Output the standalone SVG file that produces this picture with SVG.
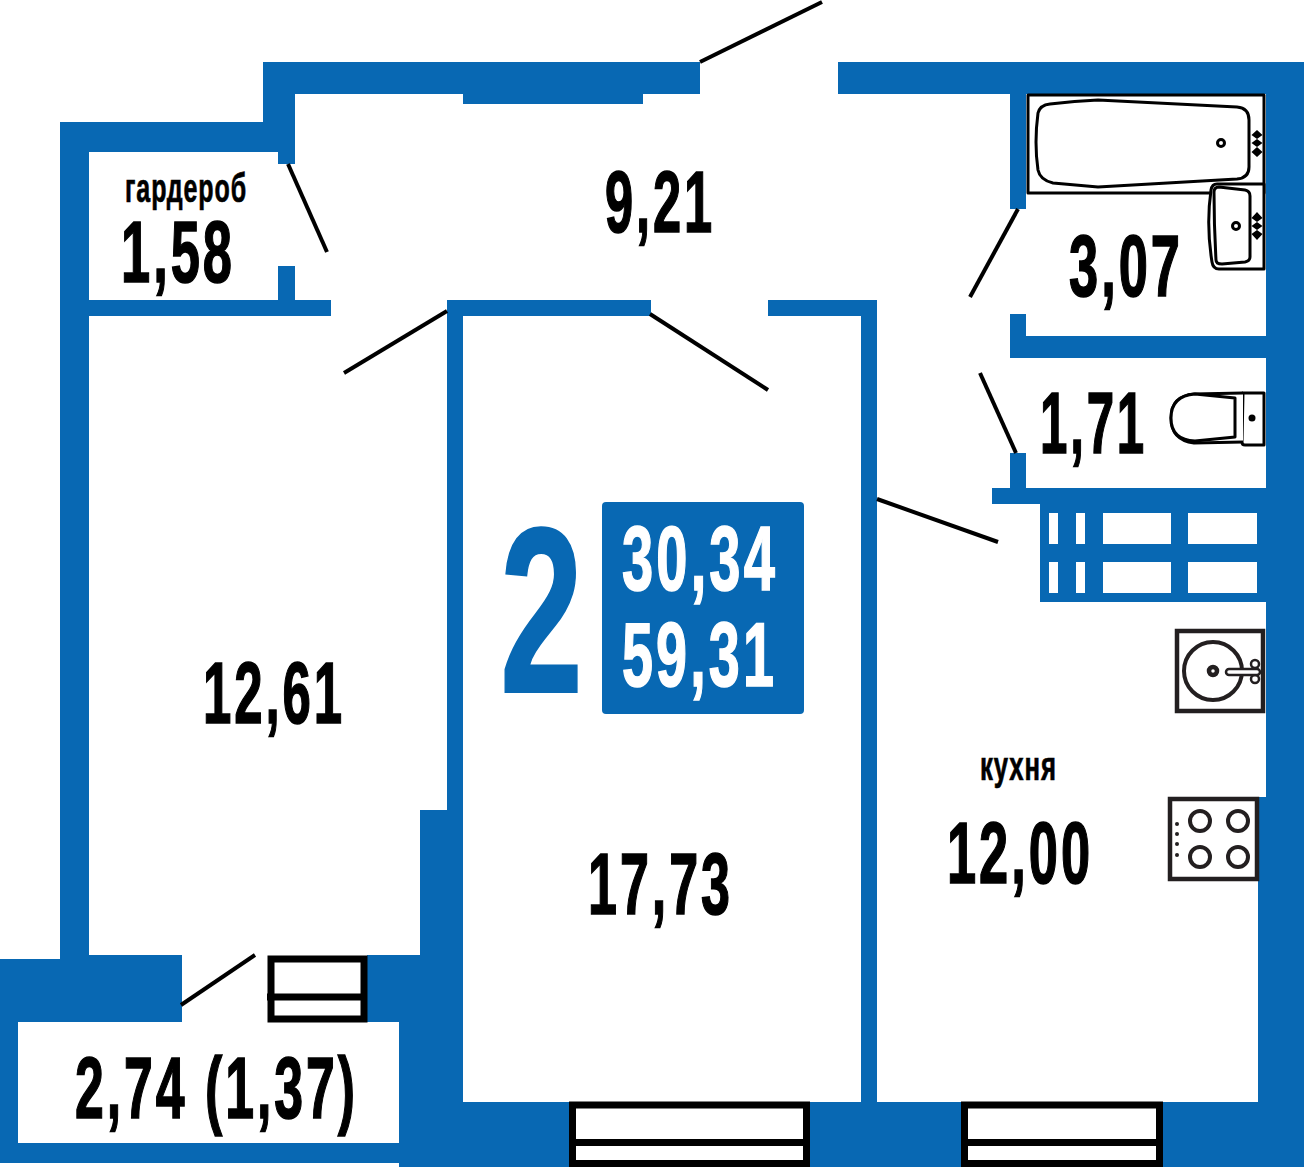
<svg xmlns="http://www.w3.org/2000/svg" width="1304" height="1168" viewBox="0 0 1304 1168">
<style>
.w{fill:#0868b3}
.d{stroke:#000;stroke-width:4;fill:none}
.k{stroke:#000;stroke-width:3;fill:#fff;stroke-linejoin:round}
.s{stroke:#231f20;fill:#fff}
.t{font-family:"Liberation Sans Narrow","Liberation Sans",sans-serif;font-weight:700;fill:#000;stroke:#000;stroke-width:1.6;font-size:88px;letter-spacing:5px}
.l{font-size:41px;stroke-width:.7;letter-spacing:1.500px}
.v{fill:#fff;stroke:#fff;font-size:90px}
</style>
<rect width="1304" height="1168" fill="#fff"/>
<g id="walls" class="w">
<rect x="263" y="62" width="437" height="32"/>
<rect x="463" y="90" width="180" height="14"/>
<rect x="838" y="62" width="466" height="32"/>
<rect x="1266" y="62" width="38" height="740"/>
<rect x="1258" y="797" width="46" height="369"/>
<rect x="263" y="62" width="32" height="90"/>
<rect x="60" y="122" width="235" height="30"/>
<rect x="278" y="140" width="17" height="24"/>
<rect x="60" y="122" width="29" height="840"/>
<rect x="278" y="266" width="17" height="40"/>
<rect x="89" y="300" width="242" height="16"/>
<rect x="447" y="300" width="204" height="16"/>
<rect x="768" y="300" width="109" height="16"/>
<rect x="447" y="300" width="16" height="810"/>
<rect x="861" y="300" width="16" height="810"/>
<rect x="420" y="810" width="43" height="150"/>
<rect x="1010" y="94" width="16" height="115"/>
<rect x="1010" y="314" width="16" height="44"/>
<rect x="1010" y="336" width="256" height="22"/>
<rect x="1010" y="453" width="16" height="40"/>
<rect x="992" y="488" width="274" height="16"/>
<path fill-rule="evenodd" d="M1040 504H1266V602H1040ZM1049 513V544H1058V513ZM1076 513V544H1085V513ZM1103 513V544H1171V513ZM1188 513V544H1257V513ZM1049 562V593H1058V562ZM1076 562V593H1085V562ZM1103 562V593H1171V562ZM1188 562V593H1257V562Z"/>
<rect x="0" y="959" width="182" height="63"/>
<rect x="89" y="955" width="93" height="67"/>
<rect x="0" y="959" width="18" height="204"/>
<rect x="0" y="1143" width="400" height="20"/>
<rect x="367" y="955" width="96" height="67"/>
<rect x="399" y="1022" width="64" height="90"/>
<rect x="399" y="1102" width="905" height="65"/>
</g>
<g id="doors">
<line class="d" x1="288" y1="164" x2="327" y2="252"/>
<line class="d" x1="447" y1="311" x2="344" y2="373"/>
<line class="d" x1="650" y1="314" x2="768" y2="390"/>
<line class="d" x1="700" y1="62" x2="822" y2="2"/>
<line class="d" x1="1018" y1="209" x2="970" y2="297"/>
<line class="d" x1="980" y1="373" x2="1016" y2="453"/>
<line class="d" x1="877" y1="499" x2="998" y2="542"/>
<line class="d" x1="255" y1="955" x2="181" y2="1005"/>
</g>
<g id="windows" fill="#fff" stroke="#000">
<g id="window-balcony" stroke-width="7">
<rect x="271" y="959" width="93" height="60"/>
<line x1="267" y1="997" x2="367" y2="997"/>
</g>
<g id="window-room" stroke-width="7">
<rect x="572.500" y="1105" width="234" height="58.500"/>
<line x1="569" y1="1142.500" x2="810" y2="1142.500"/>
</g>
<g id="window-kitchen" stroke-width="7">
<rect x="964.500" y="1105" width="195" height="58.500"/>
<line x1="961" y1="1142.500" x2="1163" y2="1142.500"/>
</g>
</g>
<g id="bath">
<rect class="k" x="1028" y="95" width="236" height="98"/>
<path class="k" d="M1050 104Q1075 101 1098 100L1237 107Q1249 108 1249 120V167Q1249 178 1237 179L1098 187L1053 183Q1040 180 1038 170Q1034 143 1038 113Q1040 105 1050 104Z"/>
<circle class="k" cx="1221" cy="143" r="3.500"/>
<path d="M1257 130l5.500 5-5.500 4-5.500-4ZM1257 139l5.500 4-5.500 4-5.500-4ZM1257 147l5.500 5-5.500 5-5.500-5Z"/>
</g>
<g id="basin">
<path class="k" d="M1264 184H1217Q1212 184 1211 190Q1206 225 1212 262Q1213 269 1219 269H1264Z"/>
<path class="k" stroke-width="3" d="M1219 187L1245 190Q1250 191 1250 196V257Q1250 261 1245 262L1222 264Q1216 264 1216 260Q1214 225 1214 192Q1214 187 1219 187Z"/>
<circle class="k" cx="1236" cy="226" r="3.500"/>
<path d="M1257 212l5.500 6-5.500 4-5.500-4ZM1257 222l5.500 4-5.500 4-5.500-4ZM1257 230l5.500 4-5.500 6-5.500-6Z"/>
</g>
<g id="toilet">
<path class="k" d="M1243 393H1264V445H1245Q1242 445 1242 442Z"/>
<path class="k" d="M1243 393L1194 394Q1171 396 1171 418Q1171 440 1194 443L1243 442"/>
<path class="k" d="M1235 398L1195 394Q1171 396 1171 418Q1171 440 1195 441L1235 437Z"/>
<circle cx="1252" cy="418" r="3.500"/>
</g>
<g id="sink">
<rect class="s" x="1177" y="631" width="86" height="80" stroke-width="4.500"/>
<circle class="s" cx="1213" cy="671" r="29" stroke-width="4"/>
<circle class="s" cx="1213" cy="671" r="4" stroke-width="4.500"/>
<circle class="s" cx="1255" cy="664" r="4" stroke-width="2.500"/>
<circle class="s" cx="1255" cy="679" r="4" stroke-width="2.500"/>
<rect class="s" x="1226" y="669" width="34" height="6" rx="3" stroke-width="2.500"/>
</g>
<g id="hob">
<rect class="s" x="1170" y="799" width="87" height="80" stroke-width="4.500"/>
<circle class="s" cx="1200" cy="821" r="10" stroke-width="4"/>
<circle class="s" cx="1238" cy="821" r="10" stroke-width="4"/>
<circle class="s" cx="1200" cy="857" r="10" stroke-width="4"/>
<circle class="s" cx="1238" cy="857" r="10" stroke-width="4"/>
<g fill="#231f20"><circle cx="1177" cy="824" r="2"/><circle cx="1177" cy="834" r="2"/><circle cx="1177" cy="844" r="2"/><circle cx="1177" cy="855" r="2"/></g>
</g>
<g id="labels">
<text class="t l" x="125" y="202" textLength="122" lengthAdjust="spacingAndGlyphs">гардероб</text>
<text class="t" x="121" y="282" textLength="114" lengthAdjust="spacingAndGlyphs">1,58</text>
<text class="t" x="605" y="232" textLength="110" lengthAdjust="spacingAndGlyphs">9,21</text>
<text class="t" x="1069" y="296" textLength="114" lengthAdjust="spacingAndGlyphs">3,07</text>
<text class="t" x="1040" y="453" textLength="107" lengthAdjust="spacingAndGlyphs">1,71</text>
<text class="t" x="203" y="723" textLength="142" lengthAdjust="spacingAndGlyphs">12,61</text>
<text class="t" x="588" y="914" textLength="145" lengthAdjust="spacingAndGlyphs">17,73</text>
<text class="t l" x="980" y="780" textLength="77" lengthAdjust="spacingAndGlyphs">кухня</text>
<text class="t" x="947" y="883" textLength="146" lengthAdjust="spacingAndGlyphs">12,00</text>
<text class="t" x="75" y="1118" textLength="283" lengthAdjust="spacingAndGlyphs">2,74 (1,37)</text>
</g>
<g id="summary">
<text x="500" y="692" textLength="83" lengthAdjust="spacingAndGlyphs" font-family="Liberation Sans Narrow,Liberation Sans,sans-serif" font-weight="700" font-size="236" fill="#0868b3" stroke="#0868b3" stroke-width="2">2</text>
<rect class="w" x="602" y="502" width="202" height="212" rx="4"/>
<text class="t v" x="622" y="590" textLength="156" lengthAdjust="spacingAndGlyphs">30,34</text>
<text class="t v" x="622" y="686" textLength="155" lengthAdjust="spacingAndGlyphs">59,31</text>
</g>
</svg>
